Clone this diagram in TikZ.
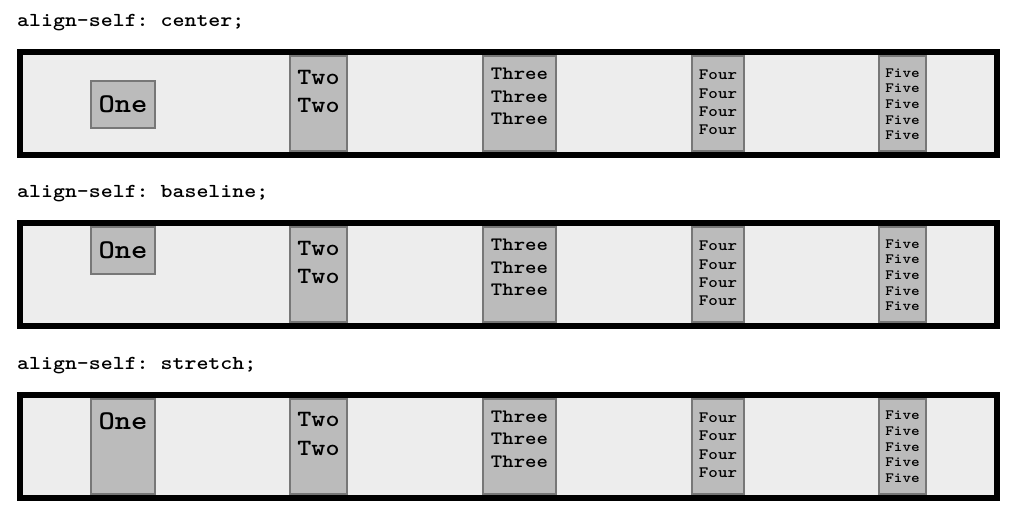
\documentclass[tikz,border=0pt]{standalone}
\usepackage{fontspec}
\newfontfamily\cour[FakeStretch=1.15]{lmmonolt10-bold.otf}
\definecolor{panelbg}{HTML}{EDEDED}
\definecolor{itemfill}{HTML}{BBBBBB}
\definecolor{itemline}{HTML}{777777}
\frenchspacing
\tikzset{
  panel/.style={draw=black, line width=6pt, fill=panelbg},
  item/.style={draw=itemline, line width=2pt, fill=itemfill},
  lbl/.style={font=\cour\frenchspacing\fontsize{19.8}{20}\selectfont, anchor=base west, inner sep=0pt},
  txt/.style={anchor=base, inner sep=0pt, font=\cour\fontsize{#1}{#1}\selectfont}
}
\begin{document}
\begin{tikzpicture}[x=1pt,y=-1pt]
\useasboundingbox[fill=white] (0,0) rectangle (1012,521);
\foreach \p/\dy/\name in {1/0/center, 2/171/baseline, 3/342.5/stretch} {
  \node[lbl] (lbl\p) at (17, 27+\dy) {align-self: \name;};
  \draw[panel] (20,52+\dy) rectangle (997,155+\dy);
  \foreach \xa/\xb in {289/348, 482/557, 691/745, 878/927}
    \draw[item] (\xa+1, 56+\dy) rectangle (\xb-1, 151+\dy);
  \foreach \k in {0,1}
    \node[txt=23.3] (two-\p-\k) at (318.5, 84.3+28.3*\k+\dy) {Two};
  \foreach \k in {0,1,2}
    \node[txt=18.9] (three-\p-\k) at (519.5, 79.8+22.5*\k+\dy) {Three};
  \foreach \k in {0,1,2,3}
    \node[txt=15.8] (four-\p-\k) at (718, 80+18.3*\k+\dy) {Four};
  \foreach \k in {0,1,2,3,4}
    \node[txt=14.2] (five-\p-\k) at (902.5, 77.1+15.7*\k+\dy) {Five};
}
% item One in each panel
\draw[item] (91,81) rectangle (155,128);
\node[txt=27] (one-1) at (123,112.3) {One};
\draw[item] (91,227) rectangle (155,274);
\node[txt=27] (one-2) at (123,258.5) {One};
\draw[item] (91,398.5) rectangle (155,493.5);
\node[txt=27] (one-3) at (123,429.5) {One};
\end{tikzpicture}
\end{document}
